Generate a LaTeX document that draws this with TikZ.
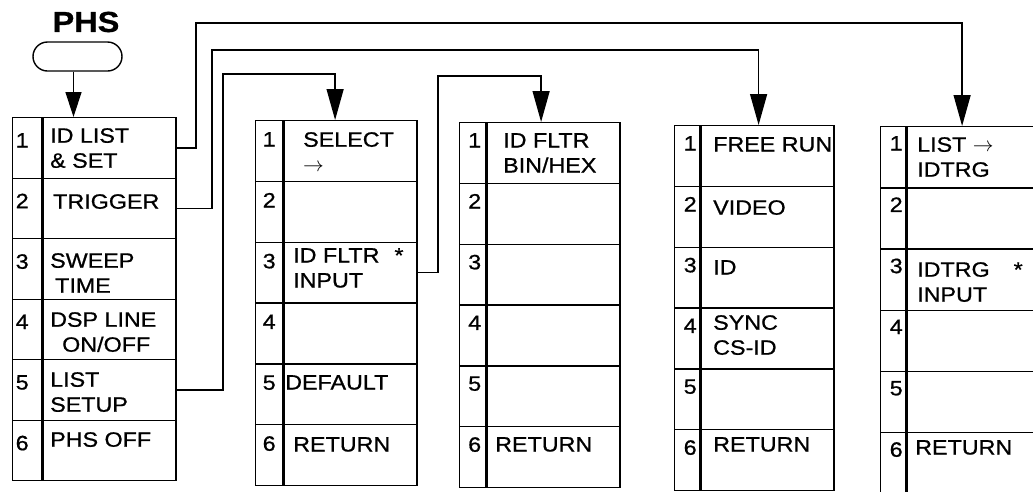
\documentclass[tikz,border=0pt]{standalone}
\usepackage{fontspec}
\setmainfont{Liberation Sans}[FakeStretch=1.12, FakeBold=0.8]
\usetikzlibrary{arrows.meta}
\tikzset{
    flow/.style={line width=1.4pt, -{Triangle[length=31pt,width=17pt]}},
    smallflow/.style={line width=1.4pt, -{Triangle[length=25pt,width=16pt]}},
    cell/.style={draw, rectangle, line width=1.4pt, inner sep=0pt, anchor=north west},
    keybox/.style={draw, rectangle, rounded corners=14.5pt, line width=1.4pt, minimum width=89pt, minimum height=29pt},
    num/.style={anchor=north, inner sep=0pt, font=\fontsize{20.8}{25}\selectfont},
    entry/.style={anchor=north west, inner sep=0pt, align=left, font=\fontsize{20.8}{25}\selectfont}
}

\begin{document}
\begin{tikzpicture}[x=1pt, y=-1pt]
    \clip (0,0) rectangle (1033,491);
    % PHS key
    \node (phs) [inner sep=0pt, font=\bfseries\fontsize{29}{29}\selectfont] at (86,22) {PHS};
    \node (key) [keybox] at (77.5,56.5) {};
    % menus: number/left/number width/top/row height/number shifts
    \foreach \m/\x/\w/\t/\h/\d/\v in {1/12/29/117/60.5/-5/16, 2/255/27/120/60.8/0/12, 3/459/26/122/60.8/2/11, 4/674/25/125/60.8/3/11, 5/880/25/126/61.2/3/10} {
        \foreach \r in {1,...,6} {
            \node (m\m-n\r) [cell, minimum width=\w, minimum height=\h] at (\x, {\t+\h*(\r-1)}) {};
            \node (m\m-e\r) [cell, minimum width=133, minimum height=\h] at (m\m-n\r.north east) {};
            \node (m\m-k\r) [num] at ([xshift=\d pt, yshift=-\v pt]m\m-n\r.north) {\r};
        }
    }
    % menu 1
    \node (t1a) [entry] at (50,128) {ID LIST\\\& SET};
    \node (t1b) [entry] at (53,194) {TRIGGER};
    \node (t1c) [entry] at (50,253) {SWEEP\\\hspace{5pt}TIME};
    \node (t1d) [entry] at (50,312) {DSP LINE\\\hspace{12pt}ON/OFF};
    \node (t1e) [entry] at (50,372) {LIST\\SETUP};
    \node (t1f) [entry] at (50,432) {PHS OFF};
    % menu 2
    \node (t2a) [entry] at (303,132) {SELECT\\$\rightarrow$};
    \node (t2c) [entry] at (293,248) {ID FLTR\hspace{15pt}*\\INPUT};
    \node (t2e) [entry] at (285,375) {DEFAULT};
    \node (t2f) [entry] at (293,437) {RETURN};
    % menu 3
    \node (t3a) [entry] at (503,133) {ID FLTR\\BIN/HEX};
    \node (t3f) [entry] at (495,437) {RETURN};
    % menu 4
    \node (t4a) [entry] at (713,137) {FREE RUN};
    \node (t4b) [entry] at (713,200) {VIDEO};
    \node (t4c) [entry] at (713,260) {ID};
    \node (t4d) [entry] at (713,315) {SYNC\\CS-ID};
    \node (t4f) [entry] at (713,437) {RETURN};
    % menu 5
    \node (t5a) [entry] at (917,137) {LIST $\rightarrow$\\IDTRG};
    \node (t5c) [entry] at (917,262) {IDTRG\hspace{24pt}*\\INPUT};
    \node (t5f) [entry] at (915,440) {RETURN};
    % connectors
    \draw [smallflow] ([xshift=-4pt]key.south) -- ([xshift=-4pt]key.south |- m1-e1.north);
    \draw [flow] (m1-e1.east) -| (196,23) -| ([xshift=-11.5pt]m5-e1.north);
    \draw [flow] (m1-e2.east) -| (212,50) -| ([xshift=-9pt]m4-e1.north);
    \draw [flow] (m1-e5.east) -| (223,74) -| ([xshift=-15.5pt]m2-e1.north);
    \draw [flow] (m2-e3.east) -| (438,76) -| ([xshift=-12.5pt]m3-e1.north);
\end{tikzpicture}
\end{document}
